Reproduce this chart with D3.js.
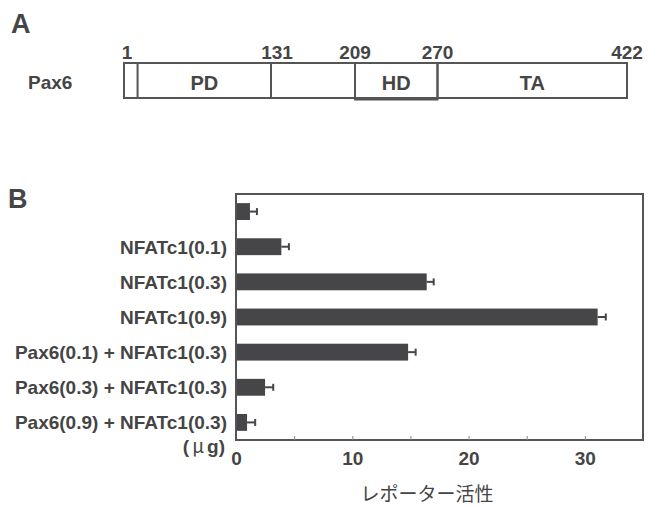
<!DOCTYPE html>
<html>
<head>
<meta charset="utf-8">
<script src="https://cdn.jsdelivr.net/npm/d3@7"></script>
<style>
  body { margin: 0; background: #fff; }
  svg text { font-family: "Liberation Sans", Arial, sans-serif; fill: #454545; }
</style>
</head>
<body>
<div id="chart"></div>
<script>
// panel A: Pax6 domain map
const boundaries = [1, 131, 209, 270, 422];
const domainNames = ['PD', 'HD', 'TA'];
const domainStarts = [13, 209, 270];
const domainEnds = [131, 270, 422];

// panel B: reporter activity
const categories = [
    '',
    'NFATc1(0.1)',
    'NFATc1(0.3)',
    'NFATc1(0.9)',
    'Pax6(0.1) + NFATc1(0.3)',
    'Pax6(0.3) + NFATc1(0.3)',
    'Pax6(0.9) + NFATc1(0.3)'
];
const values = [1.2, 3.9, 16.4, 31.1, 14.8, 2.5, 0.95];
const errors = [0.6, 0.65, 0.6, 0.7, 0.65, 0.7, 0.7];
const tickLabels = [0, 10, 20, 30];
const minorTicks = [5, 10, 15, 20, 25, 30];

const W = 648, H = 506;
const ink = '#454545', line = '#555', barColor = '#464648';

const svg = d3.select('#chart').append('svg')
    .attr('width', W)
    .attr('height', H);

// ---- Panel A ----
svg.append('text')
    .attr('x', 11).attr('y', 33)
    .style('font-size', '27px').style('font-weight', 'bold')
    .text('A');

// schematic, not to scale: piecewise scale between the labelled residues
const xa = d3.scaleLinear()
    .domain(boundaries)
    .range([124, 271, 355, 437.5, 627]);

const boxTop = 63, boxH = 35;

const gA = svg.append('g');

gA.append('rect')
    .attr('x', xa(1)).attr('y', boxTop)
    .attr('width', xa(422) - xa(1)).attr('height', boxH)
    .attr('fill', 'none').attr('stroke', line).attr('stroke-width', 2);

gA.selectAll('.dom')
    .data(domainNames)
    .enter().append('rect')
    .attr('class', 'dom')
    .attr('x', (d, i) => xa(domainStarts[i]))
    .attr('y', boxTop)
    .attr('width', (d, i) => xa(domainEnds[i]) - xa(domainStarts[i]))
    .attr('height', d => d === 'HD' ? boxH + 1.5 : boxH)
    .attr('fill', 'none').attr('stroke', line).attr('stroke-width', 2);

gA.selectAll('.domlabel')
    .data(domainNames)
    .enter().append('text')
    .attr('class', 'domlabel')
    .attr('x', (d, i) => (xa(domainStarts[i]) + xa(domainEnds[i])) / 2)
    .attr('y', boxTop + 27)
    .attr('text-anchor', 'middle')
    .style('font-size', '20px').style('font-weight', 'bold')
    .text(d => d);

gA.selectAll('.pos')
    .data(boundaries)
    .enter().append('text')
    .attr('class', 'pos')
    .attr('x', d => xa(d) + (d === 131 ? 6 : d === 1 ? 3 : 0))
    .attr('y', 59)
    .attr('text-anchor', 'middle')
    .style('font-size', '19px').style('font-weight', 'bold')
    .text(d => d);

gA.append('text')
    .attr('x', 28).attr('y', 89)
    .style('font-size', '19px').style('font-weight', 'bold')
    .text('Pax6');

// ---- Panel B ----
svg.append('text')
    .attr('x', 8).attr('y', 208)
    .style('font-size', '27px').style('font-weight', 'bold')
    .text('B');

const plotLeft = 236, plotRight = 643, plotTop = 194, plotBottom = 440;

const x = d3.scaleLinear()
    .domain([0, 35])
    .range([plotLeft, plotRight]);

const y = d3.scaleBand()
    .domain(categories.map((c, i) => i))
    .range([plotTop, plotBottom])
    .paddingInner(0.52)
    .paddingOuter(0.26);

const gB = svg.append('g');

gB.selectAll('.bar')
    .data(values)
    .enter().append('rect')
    .attr('class', 'bar')
    .attr('x', x(0))
    .attr('y', (d, i) => y(i))
    .attr('width', d => x(d) - x(0))
    .attr('height', y.bandwidth())
    .attr('fill', barColor);

// error bars
gB.selectAll('.err')
    .data(values)
    .enter().append('line')
    .attr('class', 'err')
    .attr('x1', d => x(d))
    .attr('x2', (d, i) => x(d + errors[i]))
    .attr('y1', (d, i) => y(i) + y.bandwidth() / 2)
    .attr('y2', (d, i) => y(i) + y.bandwidth() / 2)
    .attr('stroke', barColor).attr('stroke-width', 2);

gB.selectAll('.cap')
    .data(values)
    .enter().append('line')
    .attr('class', 'cap')
    .attr('x1', (d, i) => x(d + errors[i]))
    .attr('x2', (d, i) => x(d + errors[i]))
    .attr('y1', (d, i) => y(i) + y.bandwidth() / 2 - 3.5)
    .attr('y2', (d, i) => y(i) + y.bandwidth() / 2 + 3.5)
    .attr('stroke', barColor).attr('stroke-width', 2);

// frame
gB.append('rect')
    .attr('x', plotLeft).attr('y', plotTop)
    .attr('width', plotRight - plotLeft).attr('height', plotBottom - plotTop)
    .attr('fill', 'none').attr('stroke', line).attr('stroke-width', 2);

// inner ticks
const tickAxis = gB.append('g')
    .attr('transform', 'translate(0,' + plotBottom + ')')
    .call(d3.axisBottom(x).tickValues(minorTicks).tickSize(-4).tickFormat(''));
tickAxis.select('.domain').remove();
tickAxis.selectAll('line').attr('stroke', '#888').attr('stroke-width', 1);

const labelAxis = gB.append('g')
    .attr('transform', 'translate(0,' + plotBottom + ')')
    .call(d3.axisBottom(x).tickValues(tickLabels).tickSize(0).tickPadding(12));
labelAxis.select('.domain').remove();
labelAxis.selectAll('text')
    .attr('fill', ink)
    .style('font-size', '19px').style('font-weight', 'bold')
    .style('font-family', '"Liberation Sans", Arial, sans-serif');

// category labels
gB.selectAll('.cat')
    .data(categories)
    .enter().append('text')
    .attr('class', 'cat')
    .attr('x', 227)
    .attr('y', (d, i) => y(i) + y.bandwidth() / 2)
    .attr('dy', '0.36em')
    .attr('text-anchor', 'end')
    .style('font-size', '19px').style('font-weight', 'bold')
    .text(d => d);

const unit = gB.append('text')
    .attr('x', 225).attr('y', 453)
    .attr('text-anchor', 'end')
    .style('font-size', '19px').style('font-weight', 'bold');
unit.append('tspan').text('(');
unit.append('tspan')
    .attr('dx', 3)
    .style('font-family', '"Noto Sans CJK JP", sans-serif')
    .style('font-weight', 'normal')
    .text('\u03bc');
unit.append('tspan').attr('dx', 3).text('g)');

// axis title
gB.append('text')
    .attr('x', 427).attr('y', 501)
    .attr('text-anchor', 'middle')
    .style('font-family', '"Noto Sans CJK JP", sans-serif')
    .style('font-size', '19px')
    .text('レポーター活性');
</script>
</body>
</html>
